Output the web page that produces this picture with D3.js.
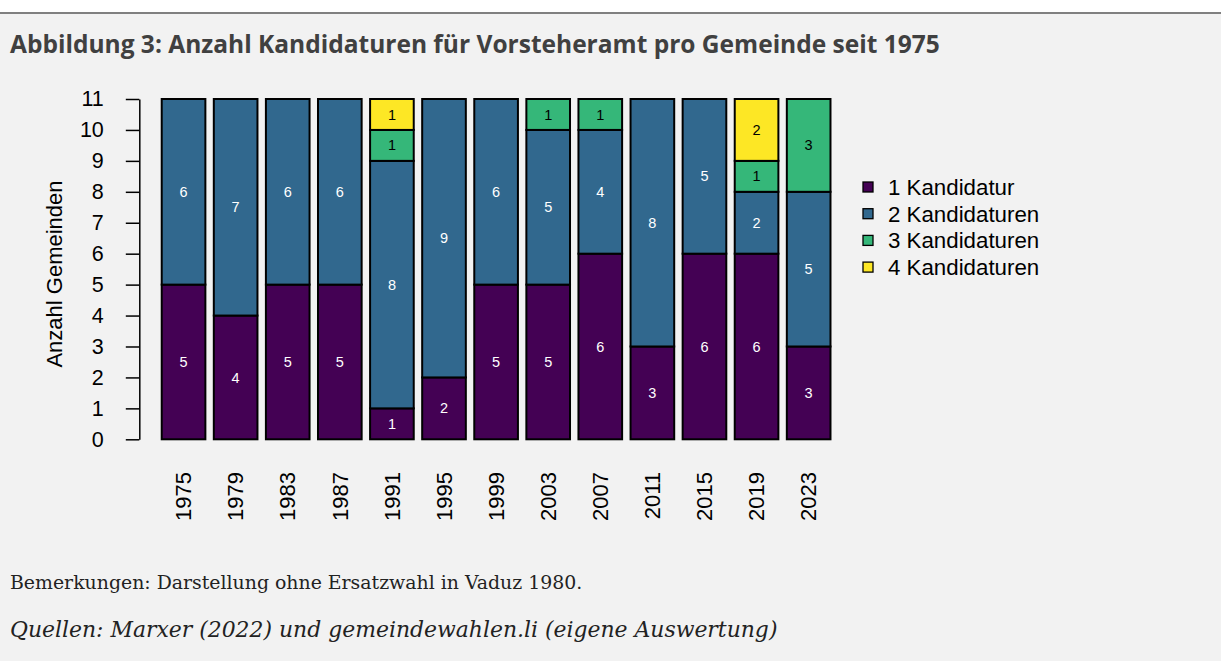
<!DOCTYPE html>
<html><head><meta charset="utf-8">
<script src="https://cdn.jsdelivr.net/npm/d3@7"></script>
<style>
html,body{margin:0;padding:0;background:#fff;}
svg{display:block;}
</style></head>
<body>
<svg id="chart" width="1221" height="661"></svg>
<script>
const years = ["1975","1979","1983","1987","1991","1995","1999","2003","2007","2011","2015","2019","2023"];
const seriesNames = ["1 Kandidatur","2 Kandidaturen","3 Kandidaturen","4 Kandidaturen"];
const k1 = [5,4,5,5,1,2,5,5,6,3,6,6,3];
const k2 = [6,7,6,6,8,9,6,5,4,8,5,2,5];
const k3 = [0,0,0,0,1,0,0,1,1,0,0,1,3];
const k4 = [0,0,0,0,1,0,0,0,0,0,0,2,0];
const yTicks = [0,1,2,3,4,5,6,7,8,9,10,11];
const colors = ["#440154","#31688E","#35B779","#FDE725"];
const labelColors = ["#ffffff","#ffffff","#000000","#000000"];

const AX = "'Liberation Sans', Arial, sans-serif";
const svg = d3.select("#chart");
svg.append("rect").attr("x",0).attr("y",13).attr("width",1221).attr("height",648).attr("fill","#f2f2f2");
svg.append("rect").attr("x",0).attr("y",12).attr("width",1221).attr("height",2).attr("fill","#808080");

function fit(sel, target){
  const fs = parseFloat(sel.attr("font-size"));
  const w = sel.node().getComputedTextLength();
  if (w>0) sel.attr("font-size", fs*target/w);
}

const title = svg.append("text").attr("x",10).attr("y",53)
  .attr("font-family","'Open Sans', sans-serif").attr("font-weight","bold")
  .attr("font-size",20).attr("fill","#404040")
  .text("Abbildung 3: Anzahl Kandidaturen für Vorsteheramt pro Gemeinde seit 1975");
fit(title, 930);

const data = years.map((y,i)=>({year:y, s0:k1[i], s1:k2[i], s2:k3[i], s3:k4[i]}));
const stack = d3.stack().keys(["s0","s1","s2","s3"])(data);

const x = d3.scaleBand().domain(years).range([157.5, 834.7]).paddingInner(0.162).paddingOuter(0.081);
const y = d3.scaleLinear().domain([0,11]).range([439.3, 99]);

const g = svg.append("g");
stack.forEach((layer,li)=>{
  layer.forEach((d,i)=>{
    const v = d[1]-d[0];
    if (v<=0) return;
    g.append("rect")
      .attr("x", x(years[i])).attr("width", x.bandwidth())
      .attr("y", y(d[1])).attr("height", y(d[0])-y(d[1]))
      .attr("fill", colors[li]).attr("stroke","#000").attr("stroke-width",2);
  });
});
stack.forEach((layer,li)=>{
  layer.forEach((d,i)=>{
    const v = d[1]-d[0];
    if (v<=0) return;
    g.append("text")
      .attr("x", x(years[i]) + x.bandwidth()/2)
      .attr("y", y((d[0]+d[1])/2))
      .attr("dy","0.35em").attr("text-anchor","middle")
      .attr("font-family",AX).attr("font-size",14.5)
      .attr("fill", labelColors[li]).text(v);
  });
});

// y axis
const yAxis = d3.axisLeft(y).tickValues(yTicks).tickSize(13.5).tickPadding(22).tickSizeOuter(0);
const ya = svg.append("g").attr("transform","translate(139.3,0)").call(yAxis);
ya.select(".domain").attr("stroke","#000").attr("stroke-width",1.5);
ya.selectAll(".tick line").attr("stroke","#000").attr("stroke-width",1.5);
ya.selectAll(".tick text").attr("font-family",AX).attr("font-size",21.5).attr("fill","#000");

svg.append("text").attr("transform","translate(54,274) rotate(-90)")
  .attr("text-anchor","middle").attr("dy","0.35em").attr("font-family",AX)
  .attr("font-size",22).attr("fill","#000").text("Anzahl Gemeinden");

// x labels
const xAxis = d3.axisBottom(x).tickSize(0).tickPadding(0);
const xa = svg.append("g").attr("transform","translate(0,439)").call(xAxis);
xa.select(".domain").remove();
xa.selectAll(".tick text")
  .attr("font-family",AX).attr("font-size",22).attr("fill","#000")
  .attr("transform","translate(0,33) rotate(-90)")
  .attr("text-anchor","end").attr("x",0).attr("y",0).attr("dy","0.35em");

// legend
const leg = svg.append("g");
seriesNames.forEach((n,i)=>{
  const cy = 187 + i*26.7;
  leg.append("rect").attr("x",863).attr("y",cy-5).attr("width",10).attr("height",10)
    .attr("fill",colors[i]).attr("stroke","#000").attr("stroke-width",1.3);
  leg.append("text").attr("x",888).attr("y",cy).attr("dy","0.35em")
    .attr("font-family",AX).attr("font-size",22.3).attr("fill","#000").text(n);
});

const note = svg.append("text").attr("x",10).attr("y",589)
  .attr("font-family","'DejaVu Serif', serif").attr("font-size",17).attr("fill","#222")
  .text("Bemerkungen: Darstellung ohne Ersatzwahl in Vaduz 1980.");
fit(note, 573);
const src = svg.append("text").attr("x",10).attr("y",637)
  .attr("font-family","'DejaVu Serif', serif").attr("font-style","italic").attr("font-size",22).attr("fill","#222")
  .text("Quellen: Marxer (2022) und gemeindewahlen.li (eigene Auswertung)");
fit(src, 768);
</script>
</body></html>
